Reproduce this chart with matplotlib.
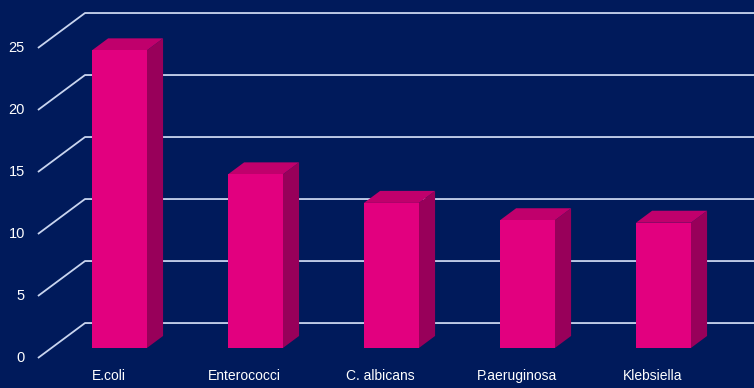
import matplotlib.pyplot as plt
from matplotlib.patches import Polygon

plt.rcParams['font.family'] = ['Liberation Sans', 'DejaVu Sans']

# 数据
categories = ['E.coli', 'Enterococci', 'C. albicans', 'P.aeruginosa', 'Klebsiella']
values = [24, 14, 11.7, 10.3, 10.1]
y_ticks = [0, 5, 10, 15, 20, 25]

bg = '#001a5b'
grid_color = '#c9d5ef'
front_color = '#e2007f'
top_color = '#c0006c'
side_color = '#98005a'

# 伪 3D 参数（数据坐标）
DX, DY = 0.346, 2.82      # 地板深度
d0, d1 = 0.286, 0.63      # 柱体前后位置（占深度比例）
bw = 0.404                # 柱宽

fig = plt.figure(figsize=(7.54, 3.88), dpi=100)
fig.patch.set_facecolor(bg)
ax = fig.add_axes([0, 0, 1, 1])
ax.set_facecolor(bg)
ax.set_xlim(-0.779, 4.765)
ax.set_ylim(-2.419, 28.87)
ax.axis('off')

# 网格线：左侧斜线 + 背墙水平线
for t in y_ticks:
    ax.plot([-0.5, -0.5 + DX, 4.765], [t, t + DY, t + DY],
            color=grid_color, lw=1.3, solid_capstyle='butt', zorder=1)
    ax.text(-0.596, t, str(t), color='white', fontsize=10.5,
            ha='right', va='center')

# 柱体
for i, (name, v) in enumerate(zip(categories, values)):
    x0 = i - bw / 2 + d0 * DX
    x1 = i + bw / 2 + d0 * DX
    y0 = d0 * DY
    ox = (d1 - d0) * DX
    oy = (d1 - d0) * DY
    side = [(x1, y0), (x1, y0 + v), (x1 + ox, y0 + v + oy), (x1 + ox, y0 + oy)]
    top = [(x0, y0 + v), (x1, y0 + v), (x1 + ox, y0 + v + oy), (x0 + ox, y0 + v + oy)]
    front = [(x0, y0), (x1, y0), (x1, y0 + v), (x0, y0 + v)]
    ax.add_patch(Polygon(side, closed=True, fc=side_color, ec='none', zorder=2))
    ax.add_patch(Polygon(top, closed=True, fc=top_color, ec='none', zorder=2))
    ax.add_patch(Polygon(front, closed=True, fc=front_color, ec='none', zorder=3))
    ax.text(i + 0.02, -1.45, name, color='white', fontsize=10,
            ha='center', va='center')

plt.savefig('out.png', dpi=100, facecolor=bg)
